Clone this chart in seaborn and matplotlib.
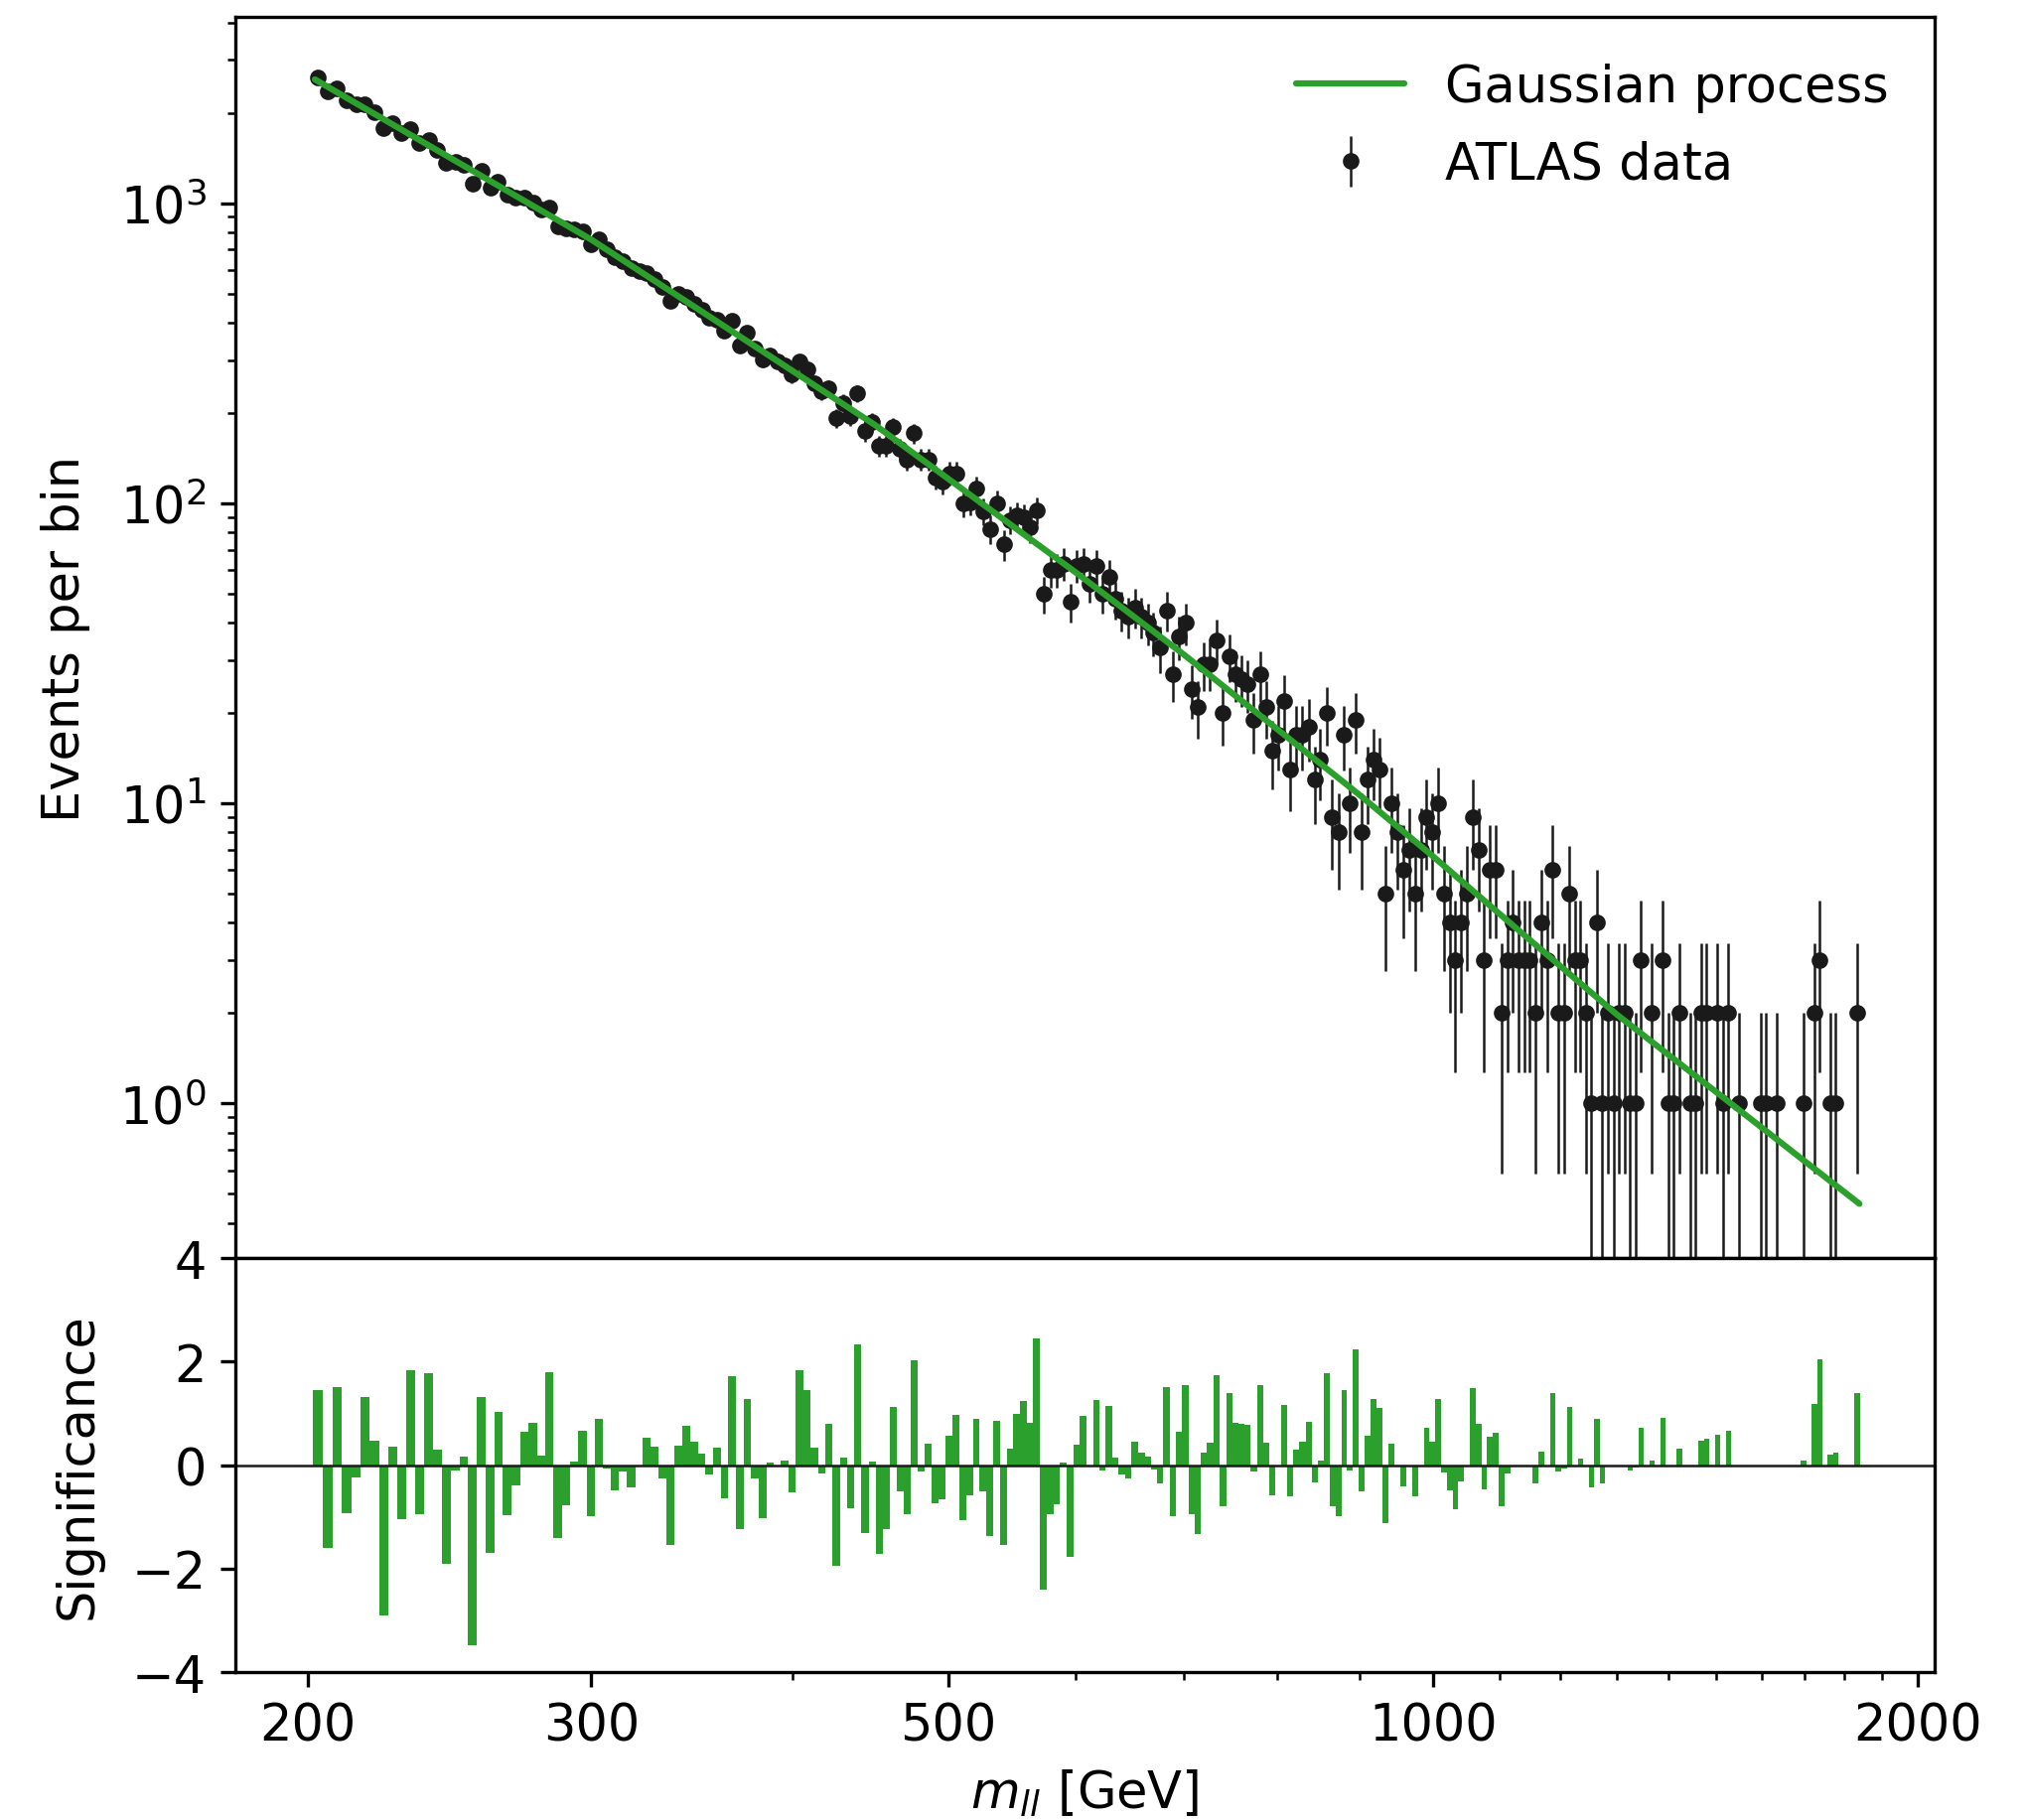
import numpy as np
import matplotlib
matplotlib.use("Agg")
import matplotlib.pyplot as plt
from matplotlib.ticker import FixedLocator, MultipleLocator, NullFormatter, FuncFormatter
import seaborn as sns

# ---------------- data ----------------
mass_gev = [
    202.9, 205.8, 208.4, 211.3, 214.3, 216.9, 220.0, 222.8, 225.7, 228.6,
    231.5, 234.5, 237.7, 240.7, 243.8, 247.0, 249.8, 253.0, 256.3, 259.6,
    262.5, 265.9, 269.3, 272.4, 275.9, 279.1, 282.3, 285.9, 289.4, 292.5,
    296.3, 299.6, 303.1, 306.5, 310.4, 313.9, 317.6, 321.2, 324.7, 328.4,
    332.2, 335.9, 339.8, 343.7, 347.6, 351.3, 355.1, 359.1, 362.7, 366.9,
    371.1, 374.8, 379.1, 383.4, 387.2, 391.4, 395.6, 399.5, 404.1, 408.4,
    412.8, 416.9, 421.1, 425.9, 430.2, 434.5, 438.8, 443.8, 448.3, 452.8,
    457.3, 461.9, 466.5, 471.1, 475.8, 480.6, 485.7, 490.6, 495.5, 500.5,
    505.5, 510.5, 515.6, 520.0, 525.2, 530.5, 535.8, 541.1, 545.8, 551.2,
    556.7, 561.5, 567.1, 572.8, 578.5, 583.5, 589.3, 595.2, 600.3, 606.3,
    611.9, 617.6, 622.9, 629.1, 634.5, 640.4, 646.3, 652.8, 658.8, 665.0,
    670.2, 676.4, 683.2, 689.0, 694.9, 701.9, 707.9, 713.9, 720.5, 726.7,
    733.5, 740.3, 747.1, 754.1, 760.5, 767.0, 773.6, 780.8, 788.0, 794.2,
    801.0, 807.9, 814.8, 822.3, 829.4, 837.1, 844.2, 850.9, 858.8, 865.5,
    873.5, 880.4, 887.9, 895.5, 903.2, 910.9, 918.7, 926.6, 934.5, 942.5,
    950.6, 958.7, 966.9, 975.2, 982.9, 990.6, 999.1, 1007.6, 1016.3, 1024.2,
    1032.3, 1041.1, 1050.0, 1059.0, 1068.1, 1075.7, 1084.9, 1094.2, 1103.6, 1112.2,
    1120.9, 1130.5, 1139.4, 1148.4, 1158.2, 1168.1, 1177.3, 1186.5, 1196.7, 1206.1,
    1215.5, 1225.1, 1234.7, 1244.4, 1254.1, 1264.9, 1273.9, 1284.8, 1294.9, 1305.0,
    1315.3, 1325.6, 1336.0, 1346.5, 1357.0, 1367.7, 1378.4, 1389.2, 1400.1, 1411.1,
    1423.2, 1433.3, 1444.6, 1455.9, 1467.3, 1478.9, 1490.5, 1502.2, 1513.9, 1525.8,
    1537.6, 1549.4, 1561.3, 1573.4, 1585.5, 1597.7, 1610.0, 1622.4, 1634.9, 1647.5,
    1660.2, 1673.0, 1685.9, 1698.9, 1712.0, 1725.1, 1738.4, 1751.8, 1765.3, 1778.9,
    1792.6, 1806.4, 1820.3, 1834.4,
]

events = [
    2621, 2358, 2416, 2200, 2139, 2131, 2003, 1779, 1844, 1715,
    1766, 1586, 1628, 1509, 1366, 1378, 1341, 1158, 1278, 1127,
    1179, 1067, 1043, 1040, 1006, 952, 967, 836, 823, 820,
    805, 732, 757, 700, 660, 643, 609, 596, 587, 560,
    524, 474, 498, 486, 462, 440, 415, 410, 376, 407,
    336, 371, 328, 302, 310, 298, 289, 268, 296, 280,
    252, 236, 242, 192, 216, 195, 232, 174, 186, 155,
    155, 179, 152, 140, 171, 140, 140, 122, 118, 126,
    126, 100, 101, 112, 94, 82, 100, 73, 88, 91,
    90, 83, 95, 50, 60, 60, 63, 47, 62, 63,
    54, 62, 50, 57, 48, 44, 42, 45, 42, 40,
    37, 33, 44, 27, 36, 40, 24, 21, 29, 29,
    35, 20, 31, 27, 26, 25, 19, 27, 21, 15,
    17, 22, 13, 17, 17, 18, 12, 14, 20, 9,
    8, 17, 10, 19, 8, 12, 14, 13, 5, 10,
    8, 6, 7, 5, 7, 9, 8, 10, 5, 4,
    3, 4, 5, 9, 7, 3, 6, 6, 2, 3,
    4, 3, 3, 3, 2, 4, 3, 6, 2, 2,
    5, 3, 3, 2, 1, 4, 1, 2, 1, 2,
    2, 1, 1, 3, 0, 2, 0, 3, 1, 1,
    2, 0, 1, 1, 2, 2, 0, 2, 1, 2,
    0, 1, 0, 0, 0, 1, 1, 0, 1, 0,
    0, 0, 0, 1, 0, 2, 3, 0, 1, 1,
    0, 0, 0, 2,
]

significance = [
    1.45, -1.61, 1.51, -0.92, -0.23, 1.32, 0.47, -2.90, 0.36, -1.04,
    1.84, -0.94, 1.78, 0.30, -1.90, -0.10, 0.17, -3.49, 1.32, -1.69,
    1.03, -0.96, -0.40, 0.65, 0.82, 0.19, 1.80, -1.40, -0.77, 0.07,
    0.67, -0.98, 0.90, -0.06, -0.48, -0.12, -0.44, 0.00, 0.53, 0.36,
    -0.25, -1.55, 0.38, 0.76, 0.45, 0.22, -0.19, 0.34, -0.65, 1.72,
    -1.23, 1.28, -0.25, -1.02, 0.05, 0.00, 0.09, -0.52, 1.84, 1.45,
    0.34, -0.17, 0.80, -1.94, 0.15, -0.84, 2.34, -1.32, 0.07, -1.71,
    -1.23, 1.13, -0.50, -0.94, 2.03, -0.12, 0.42, -0.73, -0.67, 0.57,
    0.97, -1.06, -0.58, 0.90, -0.50, -1.38, 0.86, -1.55, 0.32, 0.99,
    1.24, 0.82, 2.45, -2.40, -0.94, -0.75, 0.05, -1.77, 0.40, 0.95,
    0.00, 1.26, -0.10, 1.15, 0.15, -0.19, -0.25, 0.45, 0.24, 0.17,
    -0.08, -0.36, 1.51, -0.98, 0.65, 1.55, -0.94, -1.34, 0.24, 0.44,
    1.74, -0.79, 1.39, 0.82, 0.80, 0.78, -0.12, 1.55, 0.44, -0.58,
    0.00, 1.16, -0.61, 0.30, 0.45, 0.84, -0.33, 0.09, 1.78, -0.79,
    -0.98, 1.45, -0.10, 2.24, -0.50, 0.57, 1.28, 1.11, -1.13, 0.42,
    0.00, -0.42, 0.00, -0.61, 0.00, 0.72, 0.45, 1.28, -0.15, -0.48,
    -0.86, -0.31, 0.00, 1.49, 0.80, -0.46, 0.55, 0.63, -0.79, -0.17,
    0.00, 0.00, 0.00, 0.00, -0.36, 0.26, 0.00, 1.39, -0.12, -0.06,
    1.13, 0.00, 0.13, 0.00, -0.44, 0.90, -0.35, 0.00, 0.00, 0.00,
    0.00, -0.10, -0.04, 0.72, 0.00, 0.09, 0.00, 0.91, 0.00, 0.00,
    0.32, 0.00, 0.00, 0.00, 0.47, 0.51, 0.00, 0.59, 0.00, 0.67,
    0.00, 0.00, 0.00, 0.00, 0.00, 0.00, 0.00, 0.00, 0.00, 0.00,
    0.00, 0.00, 0.00, 0.09, 0.00, 1.18, 2.05, 0.00, 0.20, 0.24,
    0.00, 0.00, 0.00, 1.39,
]

gp_mass = [202, 250, 300, 350, 400, 450, 500, 600, 700, 800,
           900, 1000, 1100, 1200, 1300, 1400, 1500, 1600, 1700, 1840]
gp_events = [2584, 1332, 755.6, 441.1, 276.1, 182.5, 120.5, 58.76, 31.35, 17.69,
             10.68, 6.66, 4.28, 2.866, 1.984, 1.455, 1.090, 0.832, 0.645, 0.4636]

x_tick_values = [200, 300, 500, 1000, 2000]
sig_ticks = [-4, -2, 0, 2, 4]

# ---------------- style ----------------
sns.set_theme(style="ticks")
fs = 12.25
plt.rcParams.update({
    "font.family": ["DejaVu Sans"],
    "font.size": fs,
    "axes.labelsize": fs,
    "xtick.labelsize": fs,
    "ytick.labelsize": fs,
    "legend.fontsize": fs,
    "axes.edgecolor": "black",
    "axes.labelcolor": "black",
    "xtick.color": "black",
    "ytick.color": "black",
    "text.color": "black",
    "axes.linewidth": 0.8,
    "xtick.major.width": 0.8,
    "ytick.major.width": 0.8,
    "xtick.minor.width": 0.6,
    "ytick.minor.width": 0.6,
    "xtick.major.size": 3.5,
    "ytick.major.size": 3.5,
    "xtick.minor.size": 2.0,
    "ytick.minor.size": 2.0,
    "mathtext.fontset": "dejavusans",
})

green = "#2ca02c"

m = np.array(mass_gev, dtype=float)
n = np.array(events, dtype=float)
s = np.array(significance, dtype=float)

# bin edges: geometric midpoints between neighbouring bin centres
logm = np.log10(m)
mid = 0.5 * (logm[1:] + logm[:-1])
edges = 10 ** np.concatenate([[logm[0] - (mid[0] - logm[0])], mid,
                              [logm[-1] + (logm[-1] - mid[-1])]])
widths = np.diff(edges)

fig = plt.figure(figsize=(6.8, 6.1133), dpi=300)
ax1 = fig.add_axes([0.1162, 0.3086, 0.8387, 0.6816])
ax2 = fig.add_axes([0.1162, 0.0812, 0.8387, 0.2274], sharex=ax1)

# ---------------- upper panel ----------------
ax1.set_xscale("log")
ax1.set_yscale("log")
has = n > 0
eb = ax1.errorbar(m[has], n[has], yerr=np.sqrt(n[has]), fmt=".", color="k",
                  ms=6, elinewidth=0.6, capsize=0, label="ATLAS data", zorder=2)
sns.lineplot(x=gp_mass, y=gp_events, ax=ax1, color=green, lw=1.5,
             label="Gaussian process", zorder=3, legend=False)
gp_handle = ax1.get_lines()[-1]
ax1.set_ylim(0.3057, 4175)
ax1.set_ylabel("Events per bin", labelpad=7)
ax1.tick_params(axis="x", which="both", labelbottom=False)
ax1.legend([gp_handle, eb], ["Gaussian process", "ATLAS data"],
           loc="upper right", frameon=False, labelspacing=0.55,
           handlelength=2.15)

# ---------------- lower panel ----------------
ax2.bar(edges[:-1], s, width=widths, align="edge", color=green, linewidth=0)
ax2.axhline(0, color="k", lw=0.6)
ax2.set_ylim(-4, 4)
ax2.set_yticks(sig_ticks)
ax2.set_ylabel("Significance", labelpad=7)
ax2.set_xlabel(r"$m_{ll}$ [GeV]")
ax2.set_xlim(180.3, 2049)
ax2.xaxis.set_major_locator(FixedLocator(x_tick_values))
ax2.xaxis.set_major_formatter(FuncFormatter(lambda v, p: f"{v:g}"))
ax2.xaxis.set_minor_locator(MultipleLocator(100))
ax2.xaxis.set_minor_formatter(NullFormatter())

fig.savefig("out.png", dpi=300)
